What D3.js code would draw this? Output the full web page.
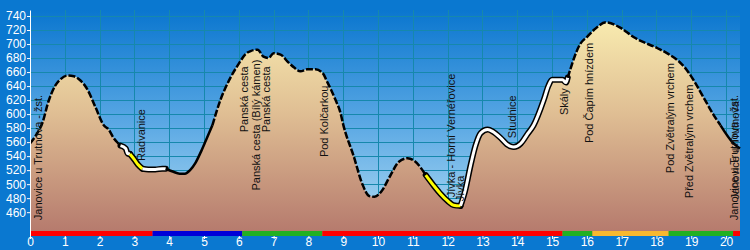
<!DOCTYPE html>
<html>
<head>
<meta charset="utf-8">
<script src="https://cdn.jsdelivr.net/npm/d3@7"></script>
<style>
  body { margin: 0; background: #0a78d0; }
  svg { display: block; }
  text { font-family: Arial, "Liberation Sans", sans-serif; }
</style>
</head>
<body>
<svg id="chart" width="750" height="250"></svg>
<script>
// profile: distance (km) and elevation (m)
const km = [0, 0.2, 0.36, 0.53, 0.73, 0.88, 1.07, 1.26, 1.45, 1.64, 1.88, 2.12, 2.26, 2.4, 2.54,
  2.6, 2.75, 2.8, 2.87, 3.0, 3.1, 3.23, 3.4, 3.6, 3.8, 3.9,
  4.1, 4.3, 4.45, 4.6, 4.75, 4.9, 5.05, 5.24, 5.47, 5.76, 6.0, 6.2, 6.34, 6.54, 6.71, 6.85, 7.0, 7.2,
  7.4, 7.6, 7.77, 7.97, 8.2, 8.4, 8.55, 8.78, 8.92, 9.0, 9.3, 9.55, 9.75, 9.9, 10.1, 10.35, 10.6,
  10.85, 11.05, 11.37, 11.6, 11.8, 12.0, 12.17, 12.37, 12.5, 12.66, 12.8, 12.95, 13.15, 13.3, 13.52,
  13.7, 13.9, 14.1, 14.3, 14.47, 14.76, 14.9, 15.0, 15.3, 15.4, 15.45, 15.82, 16.0, 16.2, 16.55,
  16.97, 17.34, 18.03, 18.3, 18.67, 18.87, 19.06, 19.35, 19.64, 19.84, 20.2, 20.4]
const elev = [558, 572, 588, 618, 641, 650, 655, 654, 648, 636, 610, 584, 578, 566, 558,
  555, 551, 544, 543, 535, 528, 522, 521, 521, 522, 522,
  518, 515, 515, 520, 530, 545, 562, 584, 620, 652, 672, 686, 690, 692, 682, 680, 687, 685,
  675, 666, 661, 664, 664, 659, 645, 620, 602, 585, 540, 500, 483, 482, 490, 512, 532,
  537, 533, 513, 498, 486, 476, 470, 469, 490, 527, 555, 573, 578, 575, 566,
  557, 553, 558, 572, 584, 620, 641, 649, 649, 645, 652, 701, 710, 720, 731,
  723, 710, 694, 687, 674, 663, 649, 624, 599, 584, 559, 551]

// surface of the track
const segStart = [0, 2.6, 2.87, 3.23, 3.9, 5.24, 11.37, 12.37, 15.45, 19.84]
const segEnd   = [2.6, 2.87, 3.23, 3.9, 5.24, 11.37, 12.37, 15.45, 19.84, 20.4]
const segType  = ['dash', 'white', 'yellow', 'white', 'solid', 'dash', 'yellow', 'white', 'dash', 'solid']

// waypoints
const wpName = ['Janovice u Trutnova - žst.', 'Radvanice', 'Panská cesta', 'Panská cesta (Bílý kámen)',
  'Panská cesta', 'Pod Kolčarkou', 'Jívka - Horní Vernéřovice', 'Jívka', 'Studnice', 'Skály',
  'Pod Čapím hnízdem', 'Pod Zvětralým vrchem', 'Před Zvětralým vrchem', 'Janovice u Trutnova - žst.',
  'Janovice u Trutnova']
const wpKm = [0.23, 3.19, 6.15, 6.49, 6.78, 8.45, 12.1, 12.36, 13.85, 15.34, 16.06, 18.39, 18.94, 20.23, 20.27]
const wpLabelElev = [448.6, 533, 574, 491, 574, 538.6, 481.4, 475.7, 565.7, 598.6, 558.6, 515.7, 480, 448.6, 478]

// coloured route bar
const barStart = [0, 3.52, 6.1, 8.4, 15.3, 16.16, 18.35, 20.2]
const barEnd   = [3.52, 6.1, 8.4, 15.3, 16.16, 18.35, 20.2, 20.4]
const barColor = ['#ff0000', '#0000d8', '#22b022', '#ff0000', '#22b022', '#f8b830', '#22b022', '#ff0000']

const xTicks = d3.range(0, 21)
const yTicks = d3.range(460, 741, 20)

const svg = d3.select('#chart')
const mLeft = 30, mRight = 740, mTop = 10, mBottom = 236

const x = d3.scaleLinear().domain([0, 20.4]).range([mLeft, mRight])
const y = d3.scaleLinear().domain([426, 748.6]).range([mBottom, mTop])

const defs = svg.append('defs')
const sky = defs.append('linearGradient').attr('id', 'sky')
  .attr('x1', 0).attr('y1', 0).attr('x2', 0).attr('y2', 1)
sky.append('stop').attr('offset', '0%').attr('stop-color', '#0a76cf')
sky.append('stop').attr('offset', '50%').attr('stop-color', '#5aa8e4')
sky.append('stop').attr('offset', '100%').attr('stop-color', '#b4def4')

const ground = defs.append('linearGradient').attr('id', 'ground')
  .attr('gradientUnits', 'userSpaceOnUse')
  .attr('x1', 0).attr('y1', mTop).attr('x2', 0).attr('y2', mBottom)
ground.append('stop').attr('offset', '0%').attr('stop-color', '#fbf0b2')
ground.append('stop').attr('offset', '45%').attr('stop-color', '#e0bf94')
ground.append('stop').attr('offset', '100%').attr('stop-color', '#b4786c')

svg.append('rect').attr('width', 750).attr('height', 250).attr('fill', '#0a78d0')
svg.append('rect').attr('x', mLeft).attr('y', mTop)
  .attr('width', mRight - mLeft).attr('height', mBottom - mTop).attr('fill', 'url(#sky)')

// grid
const grid = svg.append('g').attr('stroke', '#1688ac').attr('stroke-width', 1)
grid.selectAll('line.v').data(xTicks.filter(d => d > 0)).join('line').attr('class', 'v')
  .attr('x1', d => Math.round(x(d)) + 0.5).attr('x2', d => Math.round(x(d)) + 0.5)
  .attr('y1', mTop).attr('y2', mBottom)
grid.selectAll('line.h').data(yTicks).join('line').attr('class', 'h')
  .attr('y1', d => Math.round(y(d)) + 0.5).attr('y2', d => Math.round(y(d)) + 0.5)
  .attr('x1', mLeft).attr('x2', mRight)

const pts = km.map((d, i) => ({km: d, el: elev[i]}))

const area = d3.area().x(d => x(d.km)).y0(mBottom).y1(d => y(d.el)).curve(d3.curveMonotoneX)
svg.append('path').datum(pts).attr('d', area).attr('fill', 'url(#ground)')

// profile line by surface type
const line = d3.line().x(d => x(d.km)).y(d => y(d.el)).curve(d3.curveMonotoneX)
const lineG = svg.append('g').attr('fill', 'none').attr('stroke-linejoin', 'round')
segType.forEach((t, i) => {
  const seg = pts.filter(p => p.km >= segStart[i] && p.km <= segEnd[i])
  if (t === 'white' || t === 'yellow') {
    lineG.append('path').datum(seg).attr('d', line)
      .attr('stroke', '#000').attr('stroke-width', 6).attr('stroke-linecap', 'round')
  }
})
segType.forEach((t, i) => {
  const seg = pts.filter(p => p.km >= segStart[i] && p.km <= segEnd[i])
  const p = lineG.append('path').datum(seg).attr('d', line)
  if (t === 'white') p.attr('stroke', '#fff').attr('stroke-width', 3)
  else if (t === 'yellow') p.attr('stroke', '#ffff00').attr('stroke-width', 3)
  else if (t === 'dash') p.attr('stroke', '#000').attr('stroke-width', 2.5).attr('stroke-dasharray', '7,2')
  else p.attr('stroke', '#000').attr('stroke-width', 2.5)
})

// route colour bar
svg.append('g').selectAll('rect').data(barColor).join('rect')
  .attr('x', (d, i) => x(barStart[i])).attr('width', (d, i) => x(barEnd[i]) - x(barStart[i]))
  .attr('y', mBottom - 5).attr('height', 5).attr('fill', d => d)

// waypoint labels
svg.append('g').selectAll('text').data(wpName).join('text')
  .attr('transform', (d, i) => `translate(${x(wpKm[i]) + 4},${y(wpLabelElev[i])}) rotate(-90)`)
  .attr('font-size', 11).attr('fill', '#111').text(d => d)

// axes
const yAxis = svg.append('g').attr('transform', `translate(${mLeft},0)`)
  .call(d3.axisLeft(y).tickValues(yTicks).tickSize(3).tickPadding(1).tickSizeOuter(0))
const xAxis = svg.append('g').attr('transform', `translate(0,${mBottom})`)
  .call(d3.axisBottom(x).tickValues(xTicks).tickSize(3).tickPadding(0).tickSizeOuter(0))
xAxis.select('.domain').remove()
xAxis.selectAll('.tick text').attr('dy', '0.62em')
svg.selectAll('.tick line, .domain').attr('stroke', '#fff')
svg.selectAll('.tick text').attr('fill', '#fff').attr('font-size', 12)
  .attr('font-family', 'Arial, "Liberation Sans", sans-serif')
</script>
</body>
</html>
